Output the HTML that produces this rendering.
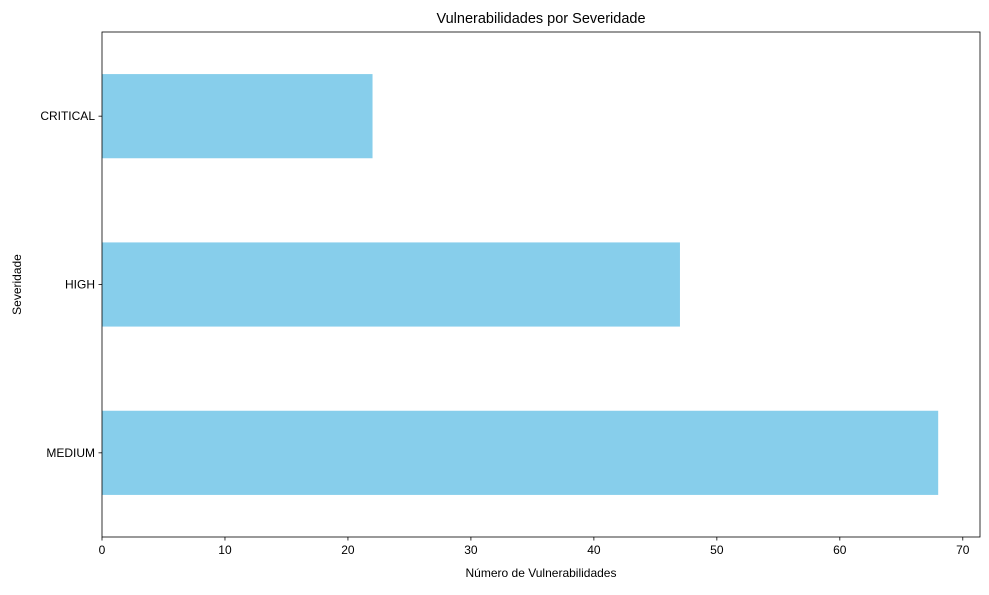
<!DOCTYPE html>
<html><head><meta charset="utf-8"><style>
body{margin:0;background:#fff;}
svg text{font-family:"Liberation Sans","DejaVu Sans",sans-serif;fill:#000;}
</style></head><body>
<svg id="chart" width="989" height="590" viewBox="0 0 989 590" xmlns="http://www.w3.org/2000/svg">
<rect x="0" y="0" width="989" height="590" fill="#fff"/>
<g id="plot"></g>
</svg>
<script>
const categories = ["MEDIUM", "HIGH", "CRITICAL"];
const values = [68, 47, 22];
const xTicks = [0, 10, 20, 30, 40, 50, 60, 70];

const L = 102, R = 980, T = 32, B = 537;
const xMax = 71.4;
const x = v => L + v / xMax * (R - L);
const y = i => B - (i + 0.5) / categories.length * (B - T);
const band = (B - T) / categories.length * 0.5;
const NS = "http://www.w3.org/2000/svg";
const g = document.getElementById('plot');
function mk(tag, attrs, text) {
  const e = document.createElementNS(NS, tag);
  for (const k in attrs) e.setAttribute(k, attrs[k]);
  if (text !== undefined) e.textContent = text;
  g.appendChild(e);
  return e;
}
categories.forEach((c, i) => {
  const b = mk('rect', {x: x(0), y: y(i) - band / 2, width: x(values[i]) - x(0), height: band, fill: '#87ceeb'});
  
  
  const t = mk('line', {x1: L - 3.5, x2: L, y1: y(i), y2: y(i), stroke: '#000', 'stroke-width': 0.8});
  
  
  const l = mk('text', {x: L - 7, y: y(i) + 4, 'text-anchor': 'end', 'font-size': 12}, c);
  
  
});
xTicks.forEach(v => {
  const t = mk('line', {x1: x(v), x2: x(v), y1: B, y2: B + 3.5, stroke: '#000', 'stroke-width': 0.8});
  
  
  const l = mk('text', {x: x(v), y: B + 17, 'text-anchor': 'middle', 'font-size': 12}, String(v));
  
  
});
const frame = mk('rect', {x: L, y: T, width: R - L, height: B - T, fill: 'none', stroke: '#000', 'stroke-width': 0.8});


const title = mk('text', {x: (L + R) / 2, y: 23, 'text-anchor': 'middle', 'font-size': 14.5}, 'Vulnerabilidades por Severidade');


const xt = mk('text', {x: (L + R) / 2, y: 577, 'text-anchor': 'middle', 'font-size': 12}, 'Número de Vulnerabilidades');


const yt = mk('text', {x: 21, y: (T + B) / 2, 'text-anchor': 'middle', 'font-size': 12, transform: 'rotate(-90 21 ' + (T + B) / 2 + ')'}, 'Severidade');


</script>
</body></html>
